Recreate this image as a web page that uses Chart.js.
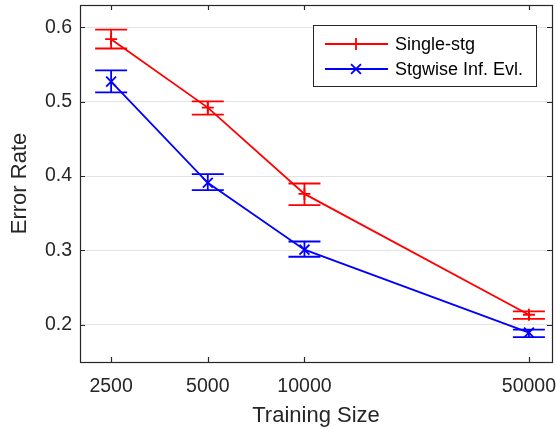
<!DOCTYPE html>
<html>
<head>
<meta charset="utf-8">
<title>Error Rate vs Training Size</title>
<script src="https://cdn.jsdelivr.net/npm/chart.js"></script>
<style>
  html, body { margin: 0; padding: 0; background: #fff; }
  #wrap { width: 556px; height: 429px; }
</style>
</head>
<body>
<div id="wrap"><canvas id="errChart" width="556" height="429"></canvas></div>
<script>
// data
const trainSizes = [2500, 5000, 10000, 50000];
const yTicks = [0.2, 0.3, 0.4, 0.5, 0.6];

const singleMean = [0.584, 0.492, 0.376, 0.2135];
const singleLow  = [0.5715, 0.4825, 0.361, 0.208];
const singleHigh = [0.5968, 0.5005, 0.390, 0.218];

const stgMean = [0.527, 0.391, 0.301, 0.1895];
const stgLow  = [0.5125, 0.381, 0.2915, 0.1835];
const stgHigh = [0.542, 0.4025, 0.312, 0.1935];

const FONT = '"Liberation Sans", Arial, Helvetica, sans-serif';
const AXIS_COLOR = '#262626';

const toPoints = (ys) => trainSizes.map((x, i) => ({ x: x, y: ys[i] }));

// vertical error bars with caps, drawn through the chart scales
const errorBars = {
  id: 'errorBars',
  afterDatasetsDraw(chart) {
    const { ctx, scales: { x, y } } = chart;
    ctx.save();
    chart.data.datasets.forEach((ds) => {
      ctx.strokeStyle = ds.borderColor;
      ctx.lineWidth = 1.8;
      trainSizes.forEach((t, i) => {
        const px = x.getPixelForValue(t);
        const top = y.getPixelForValue(ds.errHigh[i]);
        const bot = y.getPixelForValue(ds.errLow[i]);
        ctx.beginPath();
        ctx.moveTo(px, top); ctx.lineTo(px, bot);
        ctx.moveTo(px - 16, top); ctx.lineTo(px + 16, top);
        ctx.moveTo(px - 16, bot); ctx.lineTo(px + 16, bot);
        ctx.stroke();
      });
    });
    ctx.restore();
  }
};

function drawMarker(ctx, style, cx, cy, r) {
  ctx.beginPath();
  if (style === 'cross') {
    ctx.moveTo(cx - r, cy); ctx.lineTo(cx + r, cy);
    ctx.moveTo(cx, cy - r); ctx.lineTo(cx, cy + r);
  } else {
    const d = r * Math.SQRT1_2;
    ctx.moveTo(cx - d, cy - d); ctx.lineTo(cx + d, cy + d);
    ctx.moveTo(cx - d, cy + d); ctx.lineTo(cx + d, cy - d);
  }
  ctx.stroke();
}

// MATLAB-like box with inward ticks, plus the legend inside the axes
const axesBox = {
  id: 'axesBox',
  afterDraw(chart) {
    const { ctx, chartArea: a, scales: { x, y } } = chart;
    ctx.save();
    ctx.strokeStyle = AXIS_COLOR;
    ctx.lineWidth = 1.2;
    ctx.strokeRect(Math.round(a.left) + 0.5, Math.round(a.top) + 0.5,
      Math.round(a.right - a.left), Math.round(a.bottom - a.top));
    ctx.beginPath();
    trainSizes.forEach((t) => {
      const px = Math.round(x.getPixelForValue(t)) + 0.5;
      ctx.moveTo(px, a.bottom); ctx.lineTo(px, a.bottom - 5);
      ctx.moveTo(px, a.top); ctx.lineTo(px, a.top + 5);
    });
    yTicks.forEach((v) => {
      const py = Math.round(y.getPixelForValue(v)) + 0.5;
      ctx.moveTo(a.left, py); ctx.lineTo(a.left + 5, py);
      ctx.moveTo(a.right, py); ctx.lineTo(a.right - 5, py);
    });
    ctx.stroke();

    // legend
    const bx = 313.5, by = 25.5, bw = 223, bh = 61;
    ctx.fillStyle = '#fff';
    ctx.fillRect(bx, by, bw, bh);
    ctx.strokeStyle = AXIS_COLOR;
    ctx.lineWidth = 1;
    ctx.strokeRect(bx, by, bw, bh);
    ctx.font = '18px ' + FONT;
    ctx.textBaseline = 'middle';
    ctx.textAlign = 'left';
    chart.data.datasets.forEach((ds, i) => {
      const ly = 44 + i * 25;
      ctx.strokeStyle = ds.borderColor;
      ctx.lineWidth = 1.8;
      ctx.beginPath();
      ctx.moveTo(325, ly); ctx.lineTo(388, ly);
      ctx.stroke();
      drawMarker(ctx, ds.pointStyle, 356, ly, ds.pointStyle === 'cross' ? 6 : 7);
      ctx.fillStyle = '#000';
      ctx.fillText(ds.label, 395, ly + 1);
    });
    ctx.restore();
  }
};

new Chart(document.getElementById('errChart'), {
  type: 'line',
  data: {
    datasets: [
      {
        label: 'Single-stg',
        data: toPoints(singleMean),
        errLow: singleLow,
        errHigh: singleHigh,
        borderColor: '#ff0000',
        backgroundColor: '#ff0000',
        borderWidth: 1.8,
        pointStyle: 'cross',
        pointRadius: 6,
        pointBorderWidth: 1.8,
        tension: 0
      },
      {
        label: 'Stgwise Inf. Evl.',
        data: toPoints(stgMean),
        errLow: stgLow,
        errHigh: stgHigh,
        borderColor: '#0000ff',
        backgroundColor: '#0000ff',
        borderWidth: 1.8,
        pointStyle: 'crossRot',
        pointRadius: 7,
        pointBorderWidth: 1.8,
        tension: 0
      }
    ]
  },
  options: {
    responsive: false,
    animation: false,
    layout: { autoPadding: false, padding: { top: 5, right: 4, left: 0, bottom: 0 } },
    plugins: {
      legend: { display: false },
      tooltip: { enabled: false }
    },
    scales: {
      x: {
        type: 'logarithmic',
        min: 2000,
        max: 59000,
        afterBuildTicks: (s) => { s.ticks = trainSizes.map((v) => ({ value: v })); },
        afterFit: (s) => {
          s.height = 67;
          s.paddingLeft = 0;
          s.paddingRight = 0;
        },
        grid: { display: false, drawTicks: false },
        border: { display: false },
        ticks: {
          autoSkip: false,
          maxRotation: 0,
          padding: 13,
          color: AXIS_COLOR,
          font: { family: FONT, size: 19.5 },
          callback: (v) => String(v)
        },
        title: {
          display: true,
          text: 'Training Size',
          color: AXIS_COLOR,
          font: { family: FONT, size: 22 },
          padding: { top: 0, bottom: 0 }
        }
      },
      y: {
        min: 0.15,
        max: 0.63,
        afterBuildTicks: (s) => { s.ticks = yTicks.map((v) => ({ value: v })); },
        afterFit: (s) => {
          s.width = 80;
          s.paddingTop = 0;
          s.paddingBottom = 0;
        },
        grid: { color: '#e3e3e3', lineWidth: 1, drawTicks: false },
        border: { display: false },
        ticks: {
          padding: 8,
          color: AXIS_COLOR,
          font: { family: FONT, size: 19.5 },
          callback: (v) => v.toFixed(1)
        },
        title: {
          display: true,
          text: 'Error Rate',
          color: AXIS_COLOR,
          font: { family: FONT, size: 22 },
          padding: { top: 7, bottom: 0 }
        }
      }
    }
  },
  plugins: [errorBars, axesBox]
});
</script>
</body>
</html>
